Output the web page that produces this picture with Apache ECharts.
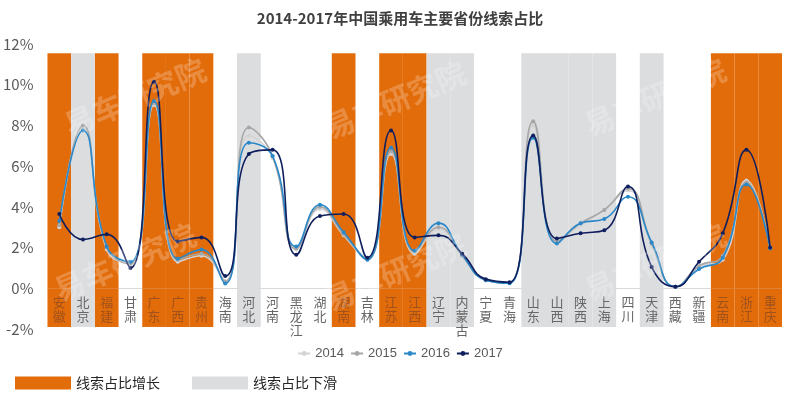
<!DOCTYPE html>
<html>
<head>
<meta charset="utf-8">
<script src="https://cdn.jsdelivr.net/npm/echarts@6/dist/echarts.min.js"></script>
<style>html,body{margin:0;padding:0;background:#fff}#c{width:800px;height:393px}</style>
</head>
<body>
<div id="c"></div>
<script>
var provinces = ['安徽','北京','福建','甘肃','广东','广西','贵州','海南','河北','河南','黑龙江','湖北','湖南','吉林','江苏','江西','辽宁','内蒙古','宁夏','青海','山东','山西','陕西','上海','四川','天津','西藏','新疆','云南','浙江','重庆'];
// 'up' = 线索占比增长, 'down' = 线索占比下滑, '' = none
var trend = ['up','down','up','','up','up','up','','down','','','','up','','up','up','down','down','','','down','down','down','down','','down','','','up','up','up'];
var s2014 = [3.0,7.9,1.9,1.2,9.0,1.3,1.6,0.3,7.5,6.4,1.9,3.9,2.6,1.4,6.6,1.7,2.9,1.6,0.4,0.25,8.0,2.3,3.1,3.85,4.8,2.1,0.08,1.05,1.4,5.3,2.0];
var s2015 = [3.1,8.0,2.0,1.2,9.1,1.4,1.7,0.35,7.9,6.5,1.95,4.0,2.65,1.45,6.75,1.8,3.0,1.6,0.4,0.25,8.2,2.3,3.2,3.85,4.9,2.2,0.08,1.1,1.6,5.2,2.0];
var s2016 = [3.3,7.75,2.05,1.3,9.2,1.45,1.9,0.23,7.15,6.5,2.05,4.1,2.75,1.4,6.9,1.85,3.2,1.65,0.4,0.25,7.4,2.2,3.2,3.4,4.5,2.25,0.08,0.95,1.5,5.1,1.95];
var s2017 = [3.65,2.4,2.65,1.0,10.15,2.3,2.5,0.6,6.6,6.8,1.65,3.55,3.65,1.5,7.75,2.5,2.6,1.7,0.45,0.3,7.5,2.45,2.7,2.85,5.0,1.05,0.08,1.3,2.7,6.8,2.0];
var yTicks = [-2,0,2,4,6,8,10,12];
var bandTop = 11.55, bandBottom = -1.9;

var chart = echarts.init(document.getElementById('c'));
function band(kind, v){ return trend.map(function(t){ return t===kind ? v : '-'; }); }
function lineSeries(name, data, color, z){
  return {name:name, type:'line', data:data, smooth:0.5, symbol:'circle', symbolSize:4,
    showSymbol:true, z:z, lineStyle:{width:1.6, color:color}, itemStyle:{color:color}};
}
var orange = '#E36C0A', gray = '#DCDDDF';
function barS(name, data, color){
  return {name:name, type:'bar', data:data, barWidth:'100%', barGap:'-100%', z:1,
    itemStyle:{color:color}, silent:true};
}
var splitColors = yTicks.map(function(t){ return t===0 ? '#D9D9D9' : 'rgba(0,0,0,0)'; });
var wm = [[135,97],[395,100],[655,97],[125,262],[395,272],[655,262]].map(function(p){
  return {type:'text', x:p[0], y:p[1], rotation:0.4, z:100,
    style:{text:'易车研究院', fill:'rgba(255,255,255,0.22)', font:'bold 30px "Noto Sans CJK SC"', align:'center', verticalAlign:'middle'}};
});
chart.setOption({
  animation:false,
  textStyle:{fontFamily:'"Noto Sans CJK SC", "Noto Sans", sans-serif'},
  title:{text:'2014-2017年中国乘用车主要省份线索占比', left:'center', top:6,
    textStyle:{fontSize:15, fontWeight:'bold', color:'#404040'}},
  legend:[{data:['2014','2015','2016','2017'], left:'center', top:342, itemWidth:12, itemHeight:6, itemGap:6,
    textStyle:{fontSize:13, color:'#595959', fontFamily:'"Liberation Sans Narrow","Liberation Sans",sans-serif'}},
    {data:['线索占比增长','线索占比下滑'], left:10, top:371, itemWidth:56, itemHeight:13, itemGap:32, icon:'rect',
    textStyle:{fontSize:14, color:'#262626'}}],
  grid:{left:46, right:18, top:44, bottom:64},
  xAxis:{type:'category', data:provinces, z:10, position:'bottom', offset:-41,
    axisLine:{show:false, onZero:false}, axisTick:{show:false},
    axisLabel:{interval:0, margin:7, fontSize:13, lineHeight:14,
      formatter:function(v){ return v.split('').join('\n'); },
      color:function(v, i){ var k = provinces.indexOf(v); return trend[k]==='up' ? '#A0511C' : '#666666'; }}},
  yAxis:{type:'value', min:-2, max:12, interval:2, axisLine:{show:false}, axisTick:{show:false},
    axisLabel:{formatter:'{value}%', fontSize:15, color:'#595959', margin:14},
    splitLine:{show:true, lineStyle:{color:splitColors, width:1}}},
  graphic:wm,
  series:[
    barS('线索占比增长', band('up', bandTop), orange),
    barS('线索占比增长', band('up', bandBottom), orange),
    barS('线索占比下滑', band('down', bandTop), gray),
    barS('线索占比下滑', band('down', bandBottom), gray),
    lineSeries('2014', s2014, '#D3D3D3', 3),
    lineSeries('2015', s2015, '#A6A6A6', 4),
    lineSeries('2016', s2016, '#2A88C8', 5),
    lineSeries('2017', s2017, '#0F1F5E', 6)
  ]
});
</script>
</body>
</html>
